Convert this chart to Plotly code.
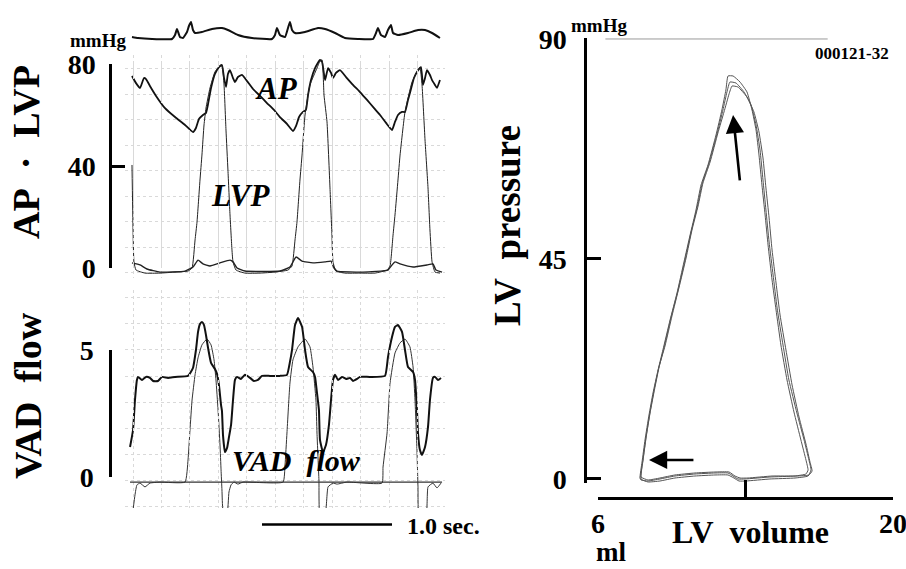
import plotly.graph_objects as go

W, H = 906, 569
SERIF = "Liberation Serif, Times New Roman, serif"

# ---------------- data ----------------
# ECG-like top trace (time s, arbitrary units)
ecg_t = [0.000, 0.046, 0.154, 0.308, 0.331, 0.346, 0.369, 0.392, 0.423, 0.438, 0.454, 0.469, 0.485, 0.538,
         0.615, 0.692, 0.738, 0.815, 0.923, 1.077, 1.100, 1.115, 1.138, 1.177, 1.200, 1.215, 1.231, 1.254,
         1.331, 1.431, 1.485, 1.562, 1.638, 1.738, 1.854, 1.877, 1.892, 1.915, 1.946, 1.969, 1.992, 2.008,
         2.046, 2.123, 2.200, 2.254, 2.308, 2.369]
ecg_v = [2, 1, 0, 0, 4, 10, 2, 1, 7, 13, 17, 9, 6, 7,
         10, 11, 9, 4, 1, 0, 4, 11, 4, 2, 11, 17, 9, 6,
         7, 11, 10, 6, 1, 0, 0, 6, 11, 4, 2, 9, 14, 6,
         4, 6, 9, 9, 6, 1]

# Aortic pressure AP (mmHg)
ap_t = [0.000, 0.031, 0.062, 0.092, 0.108, 0.138, 0.185, 0.254, 0.331, 0.408, 0.469, 0.492, 0.515, 0.546,
        0.569, 0.585, 0.608, 0.638, 0.669, 0.692, 0.708, 0.723, 0.738, 0.754, 0.777, 0.792, 0.815, 0.846,
        0.885, 0.931, 0.985, 1.038, 1.092, 1.138, 1.192, 1.238,
        1.262, 1.285, 1.315, 1.338, 1.354, 1.377, 1.408, 1.446, 1.462, 1.485, 1.508, 1.531, 1.546, 1.569,
        1.600, 1.646, 1.700, 1.754, 1.808, 1.862, 1.908, 1.954, 2.000,
        2.023, 2.046, 2.077, 2.100, 2.123, 2.138, 2.169, 2.192, 2.223, 2.238, 2.254, 2.269, 2.292, 2.308,
        2.331, 2.346, 2.369]
ap_p = [75.3, 72.5, 70.6, 74.5, 74.1, 71.4, 67.5, 62.7, 59.2, 56.1, 53.3, 54.9, 58.4, 60.0,
        60.8, 64.3, 70.6, 76.1, 78.8, 79.6, 74.5, 71.0, 76.1, 77.6, 74.5, 72.9, 74.9, 75.7,
        73.3, 70.2, 67.5, 64.7, 62.0, 59.2, 56.5, 53.7,
        55.7, 59.2, 61.2, 62.0, 67.8, 73.7, 78.4, 81.6, 80.8, 73.7, 78.4, 76.5, 74.5, 76.5,
        77.6, 74.9, 71.8, 69.0, 65.9, 62.7, 60.0, 56.9, 54.1,
        57.3, 60.0, 61.2, 61.2, 65.9, 68.6, 74.5, 76.9, 78.8, 71.8, 74.5, 77.6, 75.7, 73.7,
        71.8, 70.6, 73.7]

# Left ventricular pressure LVP (mmHg)
lvp_t = [0.000, 0.008, 0.015, 0.031, 0.100, 0.215, 0.331, 0.431, 0.462,
         0.485, 0.500, 0.523, 0.538, 0.554, 0.569, 0.600, 0.638, 0.669, 0.692, 0.708, 0.723, 0.738, 0.754,
         0.769, 0.777, 0.800, 0.869, 0.985, 1.100, 1.200,
         1.231, 1.254, 1.269, 1.292, 1.308, 1.331, 1.369, 1.423, 1.446, 1.462, 1.477, 1.500, 1.523, 1.538,
         1.546, 1.569, 1.638, 1.754, 1.869, 1.962,
         1.985, 2.008, 2.023, 2.046, 2.062, 2.100, 2.154, 2.192, 2.215, 2.231, 2.254, 2.277, 2.292, 2.308,
         2.331, 2.369]
lvp_p = [40.4, 14.9, 2.4, -0.8, -2.0, -2.0, -1.6, -1.2, 0.0,
         11.0, 18.0, 34.5, 44.3, 56.1, 62.7, 70.6, 76.9, 78.8, 79.6, 71.8, 54.1, 38.4, 20.8,
         7.1, 2.4, -0.8, -2.0, -2.0, -1.6, -0.8,
         0.8, 11.0, 18.0, 34.5, 44.3, 60.0, 71.8, 78.4, 81.2, 81.6, 67.8, 57.3, 31.4, 12.9,
         2.4, -1.2, -2.0, -2.0, -2.0, -0.8,
         0.8, 12.9, 20.8, 34.5, 44.3, 61.2, 72.9, 76.9, 78.8, 71.8, 50.2, 31.4, 14.9, 2.4,
         -1.6, -2.0]

# low-pressure trace near zero (mmHg)
low_t = [0.000, 0.062, 0.115, 0.215, 0.408, 0.469, 0.508, 0.546, 0.600, 0.677, 0.754, 0.777, 0.808, 0.869,
         1.138, 1.215, 1.262, 1.308, 1.392, 1.485, 1.531, 1.554, 1.577, 1.777, 1.969, 2.000, 2.023, 2.062,
         2.162, 2.269, 2.315, 2.338, 2.385]
low_p = [2.0, 1.2, -0.4, -1.6, -1.2, 0.4, 3.1, 1.6, 0.8, 2.0, 3.1, 2.4, 0.0, -1.2,
         -1.2, 0.4, 4.3, 2.7, 2.0, 2.4, 2.7, 0.0, -1.2, -1.6, -0.8, 1.2, 2.4, 1.6,
         0.4, 1.2, 1.6, -0.8, -1.6]

# VAD flow, thick trace (L/min)
vad1_t = [-0.015, 0.008, 0.023, 0.038, 0.046, 0.077, 0.108, 0.138, 0.162, 0.200, 0.231, 0.277, 0.331, 0.431,
          0.469, 0.492, 0.508, 0.523, 0.538, 0.554, 0.569, 0.585, 0.608, 0.638, 0.654, 0.669, 0.685, 0.692,
          0.700, 0.715, 0.731, 0.746, 0.762, 0.777, 0.792, 0.808, 0.838, 0.869, 0.908, 0.938, 0.969, 1.000,
          1.062, 1.138, 1.192, 1.215, 1.231, 1.254, 1.277, 1.308, 1.331, 1.354, 1.392, 1.408, 1.423, 1.438,
          1.446, 1.469, 1.492, 1.515, 1.531, 1.546, 1.562, 1.585, 1.615, 1.646, 1.677, 1.700, 1.731, 1.754,
          1.831, 1.946, 1.969, 2.000, 2.023, 2.046, 2.077, 2.100, 2.123, 2.162, 2.177, 2.192, 2.200, 2.215,
          2.231, 2.254, 2.277, 2.292, 2.315, 2.331, 2.354, 2.377]
vad1_f = [1.18, 1.85, 3.03, 3.82, 3.94, 3.82, 3.94, 3.90, 3.78, 3.78, 3.94, 3.90, 3.94, 3.98,
          4.29, 5.00, 5.71, 6.02, 6.10, 5.98, 5.59, 5.08, 4.49, 4.25, 4.06, 3.62, 2.83, 2.60,
          1.65, 0.98, 1.14, 1.57, 2.05, 3.03, 3.82, 3.94, 3.86, 4.02, 3.90, 3.78, 3.82, 3.98,
          3.98, 3.98, 4.02, 4.53, 5.00, 5.98, 6.26, 5.91, 5.00, 4.33, 4.13, 3.94, 3.31, 2.64,
          1.46, 0.98, 1.26, 2.05, 3.03, 3.82, 4.02, 3.82, 3.94, 3.86, 3.90, 3.78, 3.86, 3.94,
          3.94, 3.98, 4.72, 5.51, 5.91, 5.98, 5.71, 5.00, 4.33, 4.13, 3.82, 2.64, 1.73, 1.06,
          0.87, 1.18, 1.97, 3.03, 3.90, 3.94, 3.82, 3.90]

# VAD flow, thin trace (L/min)
vad2_t = [0.008, 0.023, 0.038, 0.062, 0.100, 0.138, 0.215, 0.408, 0.431, 0.446, 0.462, 0.485, 0.508, 0.538,
          0.577, 0.608, 0.631, 0.646, 0.662, 0.677, 0.685, 0.692, 0.700, 0.731, 0.746, 0.762, 0.785, 0.815,
          0.854, 1.162, 1.177, 1.192, 1.215, 1.238, 1.277, 1.331, 1.369, 1.392, 1.415, 1.423, 1.438, 1.446,
          1.485, 1.508, 1.546, 1.577, 1.654, 1.923, 1.931, 1.962, 1.985, 2.023, 2.062, 2.100, 2.138, 2.162,
          2.177, 2.192, 2.200, 2.208, 2.262, 2.277, 2.315, 2.346, 2.377]
vad2_f = [-1.30, -0.71, -0.31, -0.24, -0.39, -0.24, -0.20, -0.20, 0.67, 1.85, 3.03, 4.02, 4.69, 5.20,
          5.43, 5.20, 4.61, 3.82, 2.64, 1.26, 0.28, -0.51, -1.30, -1.50, -0.59, -0.31, -0.20, -0.28,
          -0.20, -0.20, 0.47, 1.73, 3.70, 4.61, 5.12, 5.43, 5.12, 4.33, 3.03, 1.73, -0.12, -1.50,
          -1.50, -0.39, -0.24, -0.28, -0.20, -0.24, 0.39, 1.73, 3.70, 4.88, 5.28, 5.43, 5.12, 4.33,
          3.03, 1.06, -0.39, -1.50, -1.50, -0.39, -0.24, -0.43, -0.24]

# zero-flow baseline of the recorder
base_t = [-0.015, 2.385]
base_f = [-0.20, -0.20]

# PV loops (LV volume ml, LV pressure mmHg)
loopA_v = [7.99, 8.09, 8.23, 8.42, 8.61, 8.85, 9.08, 9.42, 9.75, 10.08, 10.37, 10.65, 10.89, 11.22, 11.60,
           11.88, 12.07, 12.17, 12.41, 12.74, 13.07, 13.31, 13.50, 13.64, 13.78, 13.93, 14.07, 14.26, 14.45,
           14.68, 14.97, 15.30, 15.63, 15.87, 15.97, 15.87, 15.35, 14.16, 12.98, 12.64, 12.41, 12.17, 11.55,
           10.60, 9.65, 8.94, 8.37, 8.04, 7.99]
loopA_p = [0.20, 3.48, 7.98, 13.09, 17.59, 22.30, 26.39, 32.52, 38.04, 44.39, 49.91, 55.02, 60.14, 64.23, 70.36,
           75.48, 79.57, 82.43, 82.43, 81.20, 79.16, 75.48, 71.39, 66.27, 60.14, 54.00, 47.86, 40.70, 34.57,
           27.41, 20.25, 13.70, 7.98, 3.89, 1.84, 1.02, 0.61, 0.41, 0.00, 0.00, 0.61, 1.23, 1.23,
           1.02, 0.61, 0.00, -0.41, -0.20, 0.20]
loopB_v = [8.04, 8.14, 8.28, 8.47, 8.66, 8.89, 9.13, 9.46, 9.80, 10.13, 10.41, 10.70, 10.94, 11.27, 11.65,
           11.93, 12.12, 12.26, 12.55, 12.93, 13.26, 13.50, 13.69, 13.83, 13.97, 14.12, 14.31, 14.50, 14.78,
           15.06, 15.44, 15.78, 16.01, 16.11, 15.97, 15.35, 14.16, 13.02, 12.69, 12.45, 12.17, 11.55, 10.60,
           9.65, 8.94, 8.37, 8.04]
loopB_p = [0.00, 3.89, 8.39, 13.50, 17.80, 22.70, 26.80, 32.93, 38.66, 44.80, 50.32, 55.43, 60.34, 64.64, 70.57,
           75.48, 79.16, 81.20, 80.99, 79.16, 76.50, 72.41, 67.29, 61.16, 55.02, 48.48, 41.73, 34.98, 27.41,
           20.25, 13.50, 7.98, 3.89, 1.84, 0.61, 0.20, 0.00, -0.41, -0.41, 0.20, 0.82, 0.82, 0.61,
           0.20, -0.41, -0.61, 0.00]
loopC_v = [8.04, 8.14, 8.28, 8.47, 8.66, 8.89, 9.18, 9.51, 9.84, 10.18, 10.46, 10.75, 10.98, 11.32, 11.69,
           11.98, 12.22, 12.36, 12.64, 13.07, 13.40, 13.64, 13.83, 13.97, 14.12, 14.26, 14.45, 14.64, 14.92,
           15.21, 15.54, 15.87, 16.06, 16.16, 16.01, 15.44, 14.26, 13.12, 12.74, 12.50, 12.22, 11.55, 10.60,
           9.65, 8.94, 8.37, 8.04]
loopC_p = [0.41, 4.09, 8.59, 13.70, 18.20, 22.91, 27.20, 33.34, 39.07, 45.20, 50.93, 55.84, 60.54, 64.84, 70.77,
           75.07, 78.75, 80.38, 80.18, 78.14, 75.07, 70.98, 65.66, 59.52, 53.39, 46.84, 40.09, 33.54, 26.39,
           19.23, 12.68, 7.16, 3.48, 1.64, 0.82, 0.61, 0.61, 0.20, 0.20, 0.61, 1.43, 1.43, 1.23,
           0.82, 0.20, -0.20, 0.41]

# tick values / labels
press_ticks = [0, 40, 80]
flow_ticks = [0, 5]
pv_p_ticks = [0, 45, 90]
pv_v_ticks = [6, 13, 20]
pv_v_text = ["6", "", "20"]
scale_bar_start, scale_bar_len = 1.0, 1.0

# ---------------- helpers ----------------
def px(x):
    return x / W

def py(y):
    return 1 - y / H

T_RANGE = [-0.0538, 2.4077]
T_DOM = [px(125), px(445)]
GRID = "#d9d9d9"

fig = go.Figure()

def line(x, y, xa, ya, width, color="#111"):
    fig.add_trace(go.Scatter(x=x, y=y, xaxis=xa, yaxis=ya, mode="lines",
                             line=dict(color=color, width=width, shape="spline", smoothing=0.4),
                             showlegend=False, hoverinfo="skip"))

line(ecg_t, ecg_v, "x4", "y4", 2.0)
line(ap_t, ap_p, "x", "y", 1.8)
line(lvp_t, lvp_p, "x", "y", 1.0, "#222")
line(low_t, low_p, "x", "y", 1.4, "#222")
line(base_t, base_f, "x2", "y2", 1.3, "#333")
line(vad2_t, vad2_f, "x2", "y2", 1.0, "#333")
line(vad1_t, vad1_f, "x2", "y2", 2.0)
for lv, lp in [(loopA_v, loopA_p), (loopB_v, loopB_p), (loopC_v, loopC_p)]:
    line(lv, lp, "x3", "y3", 1.0, "#555")

# dummy traces to create bracket axes
fig.add_trace(go.Scatter(x=[None], y=[None], xaxis="x", yaxis="y5", showlegend=False))
fig.add_trace(go.Scatter(x=[None], y=[None], xaxis="x2", yaxis="y6", showlegend=False))

tickfont = dict(family=SERIF, size=28, color="black", weight="bold")
hidden_x = dict(domain=T_DOM, range=T_RANGE, showline=False, zeroline=False, showticklabels=False,
                ticks="", showgrid=True, gridcolor=GRID, griddash="dot", gridwidth=1,
                tick0=0.008, dtick=0.219, automargin=False)

fig.update_layout(
    width=W, height=H, margin=dict(l=0, r=0, t=0, b=0, pad=0, autoexpand=False),
    paper_bgcolor="white", plot_bgcolor="rgba(0,0,0,0)",
    xaxis=dict(anchor="y", **hidden_x),
    yaxis=dict(domain=[py(278), py(55)], range=[-3.92, 83.53], showline=False, zeroline=False,
               showticklabels=False, ticks="", showgrid=True, gridcolor=GRID, griddash="dot",
               tick0=-1.8, dtick=10, anchor="x", automargin=False),
    xaxis2=dict(anchor="y2", **hidden_x),
    yaxis2=dict(domain=[py(508), py(290)], range=[-1.22, 7.36], showline=False, zeroline=False,
                showticklabels=False, ticks="", showgrid=True, gridcolor=GRID, griddash="dot",
                tick0=-0.15, dtick=1.03, anchor="x2", automargin=False),
    xaxis4=dict(domain=T_DOM, range=T_RANGE, anchor="y4", visible=False, automargin=False),
    yaxis4=dict(domain=[py(52), py(15)], range=[-13, 24], anchor="x4", visible=False, automargin=False),
    yaxis5=dict(domain=[py(268), py(64)], range=[0, 80], anchor="free", position=px(110),
                showline=True, linecolor="black", linewidth=2.5, ticks="inside", ticklen=13,
                tickwidth=2.5, tickcolor="black", tickvals=press_ticks, tickfont=tickfont,
                ticklabelstandoff=8, showgrid=False, zeroline=False, automargin=False),
    yaxis6=dict(domain=[py(477), py(350)], range=[0, 5], anchor="free", position=px(110),
                showline=True, linecolor="black", linewidth=2.5, ticks="inside", ticklen=13,
                tickwidth=2.5, tickcolor="black", tickvals=flow_ticks, tickfont=tickfont,
                ticklabelstandoff=10, showgrid=False, zeroline=False, automargin=False),
    xaxis3=dict(domain=[px(598), px(893)], range=[6, 20], anchor="free", position=py(498),
                showline=True, linecolor="black", linewidth=2.5, ticks="inside", ticklen=17,
                tickwidth=2.5, tickcolor="black", tickvals=pv_v_ticks, ticktext=pv_v_text,
                tickfont=tickfont, ticklabelstandoff=0, showgrid=False, zeroline=False,
                automargin=False, ticklabeloverflow="allow"),
    yaxis3=dict(domain=[py(483), py(38)], range=[-0.82, 90.2], anchor="free", position=px(585),
                showline=True, linecolor="black", linewidth=2.5, ticks="inside", ticklen=14,
                tickwidth=2.5, tickcolor="black", tickvals=pv_p_ticks, tickfont=tickfont,
                ticklabelstandoff=12, showgrid=False, zeroline=False, automargin=False),
)

# faint recorder line at 90 mmHg in PV panel
fig.add_shape(type="line", xref="x3", yref="y3", x0=6.35, x1=16.9, y0=90, y1=90,
              line=dict(color="#9a9a9a", width=1))
# time scale bar (1.0 s)
fig.add_shape(type="line", xref="x2", yref="paper", x0=scale_bar_start,
              x1=scale_bar_start + scale_bar_len, y0=py(524.5), y1=py(524.5),
              line=dict(color="black", width=2.6))

def txt(s, x, y, size, angle=0, italic=False, xanchor="center"):
    fig.add_annotation(text=s, x=px(x), y=py(y), xref="paper", yref="paper", showarrow=False,
                       textangle=angle, xanchor=xanchor, yanchor="middle",
                       font=dict(family=SERIF, size=size, color="black", weight="bold",
                                 style="italic" if italic else "normal"))

NB = "\u00a0"
txt("mmHg", 97.5, 40, 19)
txt("AP" + NB * 2 + "·" + NB * 2 + "LVP", 26, 152, 38, angle=-90)
txt("VAD" + NB * 2 + "flow", 28, 396, 38, angle=-90)
txt("AP", 276, 88, 31, italic=True)
txt("LVP", 240, 195, 31, italic=True)
txt("VAD" + NB * 2 + "flow", 296, 460, 30, italic=True)
txt("1.0 sec.", 443.5, 526, 24)
txt("LV" + NB * 2 + "pressure", 507, 226, 37, angle=-90)
txt("LV" + NB * 2 + "volume", 750, 532, 32)
txt("ml", 611, 552, 27)
txt("mmHg", 599, 25, 19)
txt("000121-32", 852, 53, 17)

# arrows on the PV loop
for (tx, ty), (hx, hy) in [((12.74, 60.75), (12.41, 74.45)), ((10.60, 3.89), (8.42, 3.89))]:
    fig.add_annotation(x=hx, y=hy, ax=tx, ay=ty, xref="x3", yref="y3", axref="x3", ayref="y3",
                       text="", showarrow=True, arrowhead=2, arrowsize=1.4, arrowwidth=2.6,
                       arrowcolor="black", standoff=0, startstandoff=0)

fig.write_html("out.html")
